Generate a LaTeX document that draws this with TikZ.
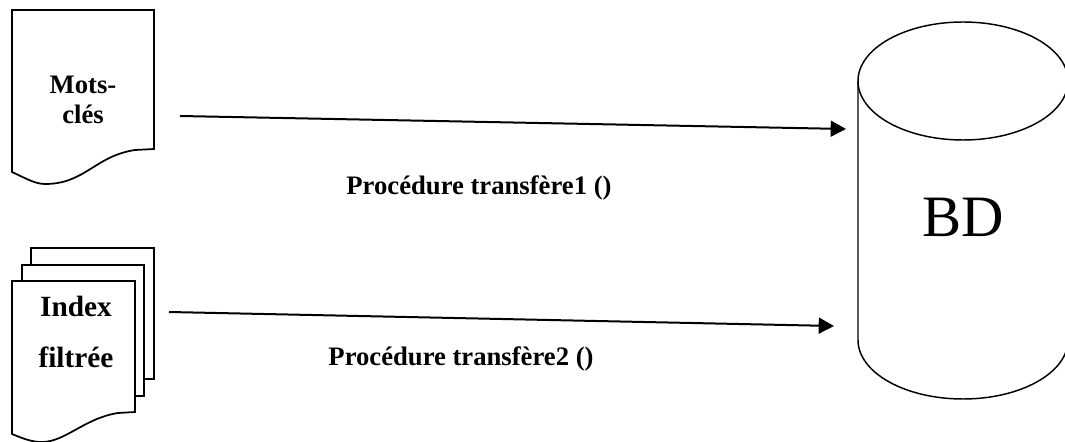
\documentclass[tikz,border=0pt]{standalone}
\usepackage{fontspec}
\setmainfont{Liberation Serif}
\usetikzlibrary{arrows.meta}
\tikzset{
  docline/.style={draw,fill=white,line width=1.3pt,line join=miter},
  baseline/.style={draw,fill=white,line width=1.1pt},
  dblabel/.style={font=\fontsize{44}{48}\selectfont},
  doclabel/.style={font=\fontsize{20}{23}\selectfont\bfseries,align=center},
  indexlabel/.style={font=\fontsize{22}{25}\selectfont\bfseries,align=center},
  proclabel/.style={font=\fontsize{20}{24}\selectfont\bfseries},
  flowarrow/.style={line width=1.5pt,-{Triangle[length=11.5pt,width=12pt]}}
}
\begin{document}
\begin{tikzpicture}[x=0.75pt,y=-0.75pt]
\useasboundingbox (0,0) rectangle (1065,442);
% documents
\draw[docline] (12,10) -- (154,10) -- (154,149) -- (135,150) .. controls (95,156) and (85,184) .. (45,184) .. controls (35,184) and (25,178) .. (12,172) -- cycle;
\foreach \l/\r/\t/\b in {31/154/248/379, 22/144/265/396}
    \draw[docline] (\l,\t) rectangle (\r,\b);
\draw[docline] (12,281) -- (135,281) -- (135,412) -- (118,413) .. controls (85,418) and (65,442) .. (42,442) .. controls (32,442) and (24,439) .. (12,434) -- cycle;
% base
\draw[baseline] (858,81) -- (858,340) arc[start angle=180,end angle=0,x radius=105,y radius=59] -- (1068,81);
\draw[baseline] (963,81) ellipse [x radius=105,y radius=59];
\node[dblabel] (bd) at (963,217) {BD};
\node[doclabel] (motscles) at (83,100) {Mots-\\clés};
\node[indexlabel] (index) at (76,332) {Index\\[13pt]filtrée};
\node[proclabel] (proc1) at (479,188) {Procédure transfère1 ()};
\node[proclabel] (proc2) at (461,359) {Procédure transfère2 ()};
% connectors
\coordinate (motsout) at (180,116);
\coordinate (indexout) at (169,312);
\coordinate (bdin1) at (846,129);
\coordinate (bdin2) at (834,326);
\draw[flowarrow] (motsout) -- (bdin1);
\draw[flowarrow] (indexout) -- (bdin2);
\end{tikzpicture}
\end{document}
